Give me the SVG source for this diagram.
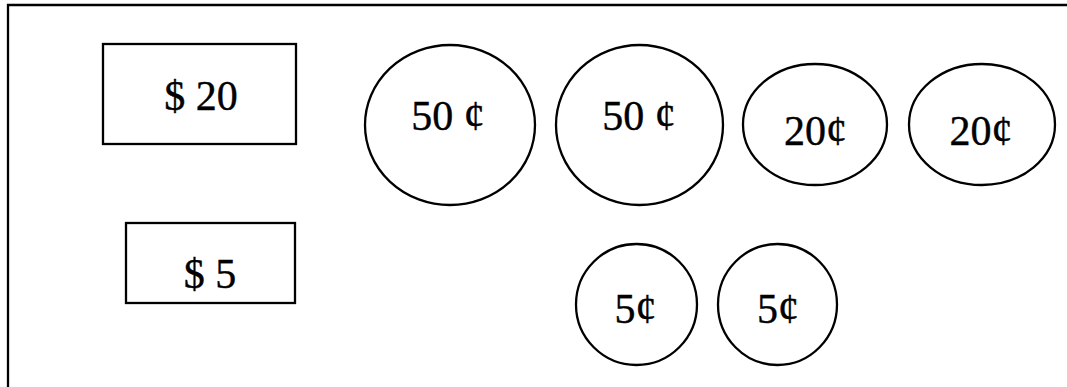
<svg xmlns="http://www.w3.org/2000/svg" width="1067" height="387" viewBox="0 0 1067 387">
<style>
.s{fill:none;stroke:#000;stroke-width:2.3}
.t{font-family:"Liberation Serif","Times New Roman",serif;font-size:42px;fill:#000;stroke:#000;stroke-width:0.4;text-anchor:middle}
</style>
<rect width="1067" height="387" fill="#fff"/>
<g id="frame"><polyline class="s" points="8,387 8,5 1067,5" stroke-width="2.5"/></g>
<g id="note20"><rect class="s" x="103" y="44" width="193" height="100"/><text class="t" x="201" y="110">$ 20</text></g>
<g id="note5"><rect class="s" x="126" y="223" width="169" height="80"/><text class="t" x="210" y="288">$ 5</text></g>
<g id="c50a"><ellipse class="s" cx="450" cy="125" rx="85" ry="80"/><text class="t" x="448" y="130">50 ¢</text></g>
<g id="c50b"><ellipse class="s" cx="639.5" cy="125" rx="83.5" ry="80"/><text class="t" x="639" y="130">50 ¢</text></g>
<g id="c20a"><ellipse class="s" cx="815" cy="124.5" rx="72" ry="60.5"/><text class="t" x="815.5" y="145">20¢</text></g>
<g id="c20b"><ellipse class="s" cx="982" cy="124.5" rx="73" ry="60.5"/><text class="t" x="981" y="145">20¢</text></g>
<g id="c5a"><ellipse class="s" cx="636.5" cy="304.5" rx="60.5" ry="60.5"/><text class="t" x="635.5" y="323">5¢</text></g>
<g id="c5b"><ellipse class="s" cx="777.5" cy="304.5" rx="59.5" ry="60.5"/><text class="t" x="778" y="323">5¢</text></g>
<g id="connectors"/>
</svg>
